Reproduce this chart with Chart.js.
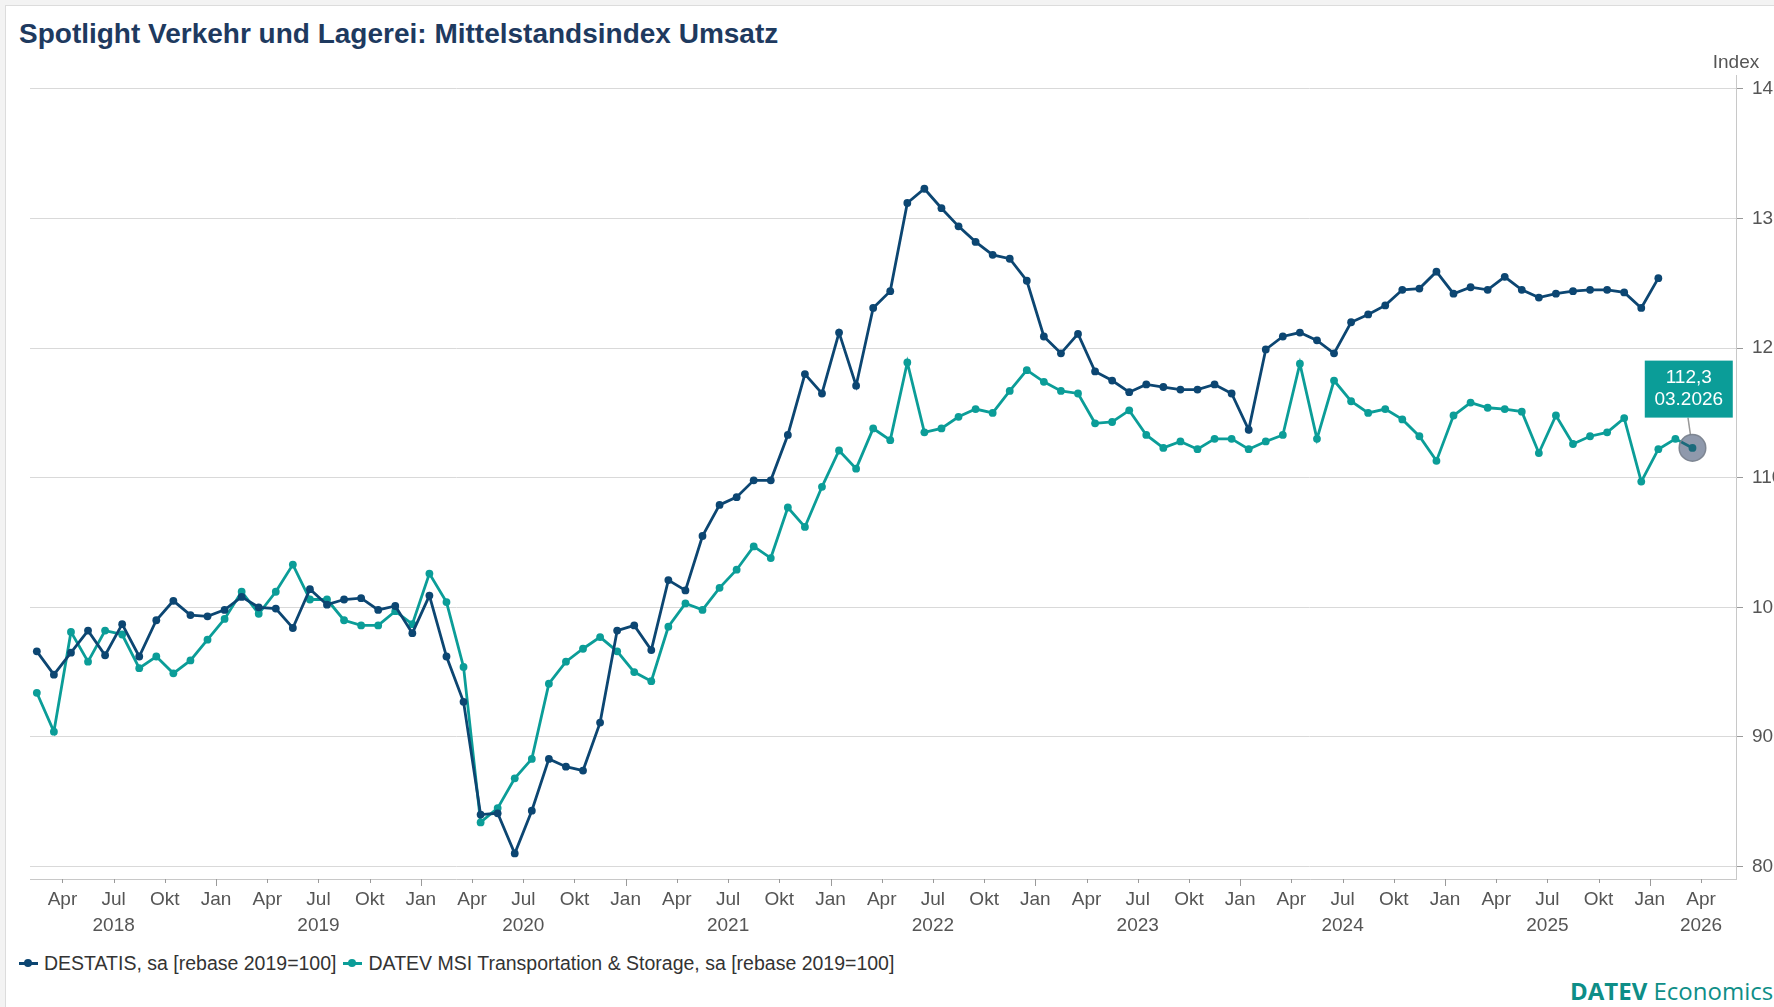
<!DOCTYPE html>
<html lang="de">
<head>
<meta charset="utf-8">
<title>Spotlight Verkehr und Lagerei: Mittelstandsindex Umsatz</title>
<script src="https://cdn.jsdelivr.net/npm/chart.js@4.4.1/dist/chart.umd.min.js"></script>
<style>
  html, body { margin: 0; padding: 0; background: #f3f3f3; overflow: hidden; }
  body { width: 1774px; height: 1007px; position: relative; font-family: "Liberation Sans", Arial, sans-serif; }
  #frame { position: absolute; left: 5px; top: 5px; width: 1800px; height: 1100px; background: #fff; border: 1px solid #dcdcdc; }
  #title { position: absolute; left: 19px; top: 20px; font: bold 28px/28px "Liberation Sans", Arial, sans-serif; color: #1e3a5f; white-space: nowrap; }
  #wrap { position: absolute; left: 0; top: 0; width: 1774px; height: 945px; }
  #legend { position: absolute; left: 19px; top: 951px; display: flex; gap: 7px; font: 19.5px/24px "Liberation Sans", Arial, sans-serif; color: #333; white-space: nowrap; }
  .item { display: flex; align-items: center; }
  .sym { position: relative; display: inline-block; width: 19px; height: 10px; margin-right: 6px; }
  .sym::before { content: ''; position: absolute; left: 0; right: 0; top: 3.5px; height: 3px; background: var(--c); }
  .sym::after { content: ''; position: absolute; left: 5px; top: 1px; width: 8px; height: 8px; border-radius: 50%; background: var(--c); }
  #logo { position: absolute; left: 1570px; top: 979px; font: 24px/24px "Open Sans", "Noto Sans", sans-serif; color: #0e8e87; white-space: nowrap; }
  #logo b { font-weight: 700; }
</style>
</head>
<body>
<div id="frame"></div>
<div id="title">Spotlight Verkehr und Lagerei: Mittelstandsindex Umsatz</div>
<div id="wrap"><canvas id="chart"></canvas></div>
<div id="legend"></div>
<div id="logo"><b>DATEV</b> Economics</div>
<script>
// first month of both series: Feb 2018 (month index since Jan 2018)
const firstMonth = 1;

const seriesNames = ['DESTATIS, sa [rebase 2019=100]', 'DATEV MSI Transportation & Storage, sa [rebase 2019=100]'];
const seriesColors = ['#0c4672', '#0b9d98'];

// DESTATIS, Feb 2018 .. Jan 2026
const destatis = [
  96.6, 94.8, 96.5, 98.2, 96.3, 98.7, 96.2, 99.0, 100.5, 99.4, 99.3,
  99.8, 100.8, 100.0, 99.9, 98.4, 101.4, 100.2, 100.6, 100.7, 99.8, 100.1, 98.0,
  100.9, 96.2, 92.7, 84.0, 84.1, 81.0, 84.3, 88.3, 87.7, 87.4, 91.1, 98.2,
  98.6, 96.7, 102.1, 101.3, 105.5, 107.9, 108.5, 109.8, 109.8, 113.3, 118.0, 116.5,
  121.2, 117.1, 123.1, 124.4, 131.2, 132.3, 130.8, 129.4, 128.2, 127.2, 126.9, 125.2,
  120.9, 119.6, 121.1, 118.2, 117.5, 116.6, 117.2, 117.0, 116.8, 116.8, 117.2, 116.5,
  113.7, 119.9, 120.9, 121.2, 120.6, 119.6, 122.0, 122.6, 123.3, 124.5, 124.6, 125.9,
  124.2, 124.7, 124.5, 125.5, 124.5, 123.9, 124.2, 124.4, 124.5, 124.5, 124.3, 123.1,
  125.4
];

// DATEV MSI, Feb 2018 .. Mar 2026
const datev = [
  93.4, 90.4, 98.1, 95.8, 98.2, 97.9, 95.3, 96.2, 94.9, 95.9, 97.5,
  99.1, 101.2, 99.5, 101.2, 103.3, 100.6, 100.6, 99.0, 98.6, 98.6, 99.7, 98.7,
  102.6, 100.4, 95.4, 83.4, 84.5, 86.8, 88.3, 94.1, 95.8, 96.8, 97.7, 96.6,
  95.0, 94.3, 98.5, 100.3, 99.8, 101.5, 102.9, 104.7, 103.8, 107.7, 106.2, 109.3,
  112.1, 110.7, 113.8, 112.9, 118.9, 113.5, 113.8, 114.7, 115.3, 115.0, 116.7, 118.3,
  117.4, 116.7, 116.5, 114.2, 114.3, 115.2, 113.3, 112.3, 112.8, 112.2, 113.0, 113.0,
  112.2, 112.8, 113.3, 118.8, 113.0, 117.5, 115.9, 115.0, 115.3, 114.5, 113.2, 111.3,
  114.8, 115.8, 115.4, 115.3, 115.1, 111.9, 114.8, 112.6, 113.2, 113.5, 114.6, 109.7,
  112.2, 113.0, 112.3
];

const quarterNames = ['Jan', 'Apr', 'Jul', 'Okt'];
const yTicks = [80, 90, 100, 110, 120, 130, 140];
const xFirstTick = 3;   // Apr 2018
const xLastTick = 99;   // Apr 2026

const toPoints = arr => arr.map((v, i) => ({ x: firstMonth + i + 0.5, y: v }));
const monthLabel = i => {
  const m = firstMonth + i;
  return String(m % 12 + 1).padStart(2, '0') + '.' + (2018 + Math.floor(m / 12));
};

Chart.defaults.font.family = '"Liberation Sans", Arial, sans-serif';
Chart.defaults.font.size = 19;
Chart.defaults.color = '#555';

const extras = {
  id: 'extras',
  afterDraw(chart) {
    const { ctx, chartArea, scales: { x, y } } = chart;
    ctx.save();
    // quarter tick marks, longer on January
    ctx.strokeStyle = '#9a9a9a';
    ctx.lineWidth = 1;
    x.ticks.forEach(t => {
      const px = Math.round(x.getPixelForValue(t.value)) + 0.5;
      const len = t.value % 12 === 0 ? 7 : 4;
      ctx.beginPath();
      ctx.moveTo(px, chartArea.bottom);
      ctx.lineTo(px, chartArea.bottom + len);
      ctx.stroke();
    });
    // axis unit
    ctx.fillStyle = '#555';
    ctx.font = '19px "Liberation Sans", Arial, sans-serif';
    ctx.textAlign = 'center';
    ctx.textBaseline = 'middle';
    ctx.fillText('Index', y.left, chartArea.top - 12);

    // highlighted last DATEV value
    const meta = chart.getDatasetMeta(1);
    const p = meta.data[meta.data.length - 1];
    const last = datev.length - 1;
    const bw = 88, bh = 57;
    const bx = p.x - 3.7 - bw / 2, by = p.y - 30.3 - bh;

    ctx.strokeStyle = '#999';
    ctx.lineWidth = 1.5;
    ctx.beginPath();
    ctx.moveTo(p.x - 4.5, by + bh);
    ctx.lineTo(p.x - 2, p.y - 13);
    ctx.stroke();

    ctx.beginPath();
    ctx.arc(p.x, p.y, 13.3, 0, Math.PI * 2);
    ctx.fillStyle = 'rgba(40, 60, 96, 0.52)';
    ctx.fill();
    ctx.strokeStyle = 'rgba(120, 128, 140, 0.9)';
    ctx.stroke();

    ctx.fillStyle = seriesColors[1];
    ctx.fillRect(bx, by, bw, bh);
    ctx.fillStyle = '#fff';
    ctx.fillText(datev[last].toFixed(1).replace('.', ','), bx + bw / 2, by + 17);
    ctx.fillText(monthLabel(last), bx + bw / 2, by + 39);
    ctx.restore();
  }
};

new Chart(document.getElementById('chart'), {
  type: 'line',
  data: {
    datasets: [destatis, datev].map((arr, i) => ({
      label: seriesNames[i],
      data: toPoints(arr),
      borderColor: seriesColors[i],
      backgroundColor: seriesColors[i],
      borderWidth: 2.8,
      pointRadius: 3.9,
      pointBorderWidth: 0,
      tension: 0,
      fill: false,
    })),
  },
  options: {
    responsive: true,
    maintainAspectRatio: false,
    animation: false,
    layout: { padding: { left: 30, top: 75, right: 0, bottom: 0 } },
    plugins: {
      legend: { display: false },
      title: { display: false },
      tooltip: { enabled: false },
    },
    scales: {
      x: {
        type: 'linear',
        min: 1.1,
        max: 101.05,
        afterBuildTicks: s => {
          const ticks = [];
          for (let v = xFirstTick; v <= xLastTick; v += 3) ticks.push({ value: v });
          s.ticks = ticks;
        },
        afterFit: s => { s.height = 66; },
        grid: { display: false, drawTicks: false },
        border: { display: true, color: '#c8c8c8', width: 1 },
        ticks: {
          padding: 8,
          maxRotation: 0,
          autoSkip: false,
          color: '#555',
          font: { size: 19, lineHeight: 1.35 },
          callback: v => {
            const name = quarterNames[(v % 12) / 3];
            if (name === 'Jul' || v === xLastTick) return [name, String(2018 + Math.floor(v / 12))];
            return name;
          },
        },
      },
      y: {
        position: 'right',
        min: 79.03,
        max: 141.08,
        afterBuildTicks: s => { s.ticks = yTicks.map(v => ({ value: v })); },
        afterFit: s => { s.width = 38; },
        grid: { color: '#d9d9d9', lineWidth: 1, drawTicks: true, tickLength: 7, tickColor: '#999' },
        border: { display: true, color: '#c8c8c8', width: 1 },
        ticks: { padding: 9, color: '#555', font: { size: 19 } },
      },
    },
  },
  plugins: [extras],
});

const legendEl = document.getElementById('legend');
seriesNames.forEach((name, i) => {
  const item = document.createElement('span');
  item.className = 'item';
  const sym = document.createElement('span');
  sym.className = 'sym';
  sym.style.setProperty('--c', seriesColors[i]);
  item.appendChild(sym);
  item.appendChild(document.createTextNode(name));
  legendEl.appendChild(item);
});
</script>
</body>
</html>
